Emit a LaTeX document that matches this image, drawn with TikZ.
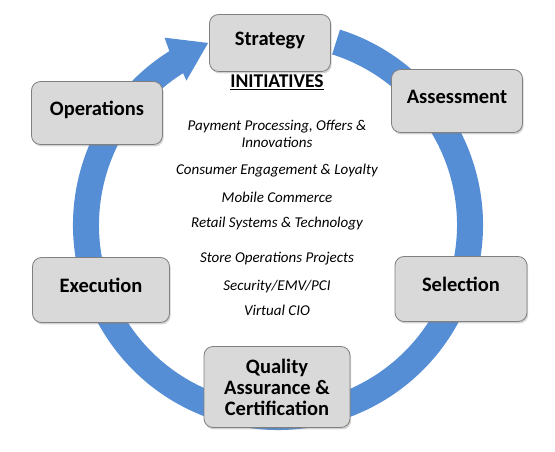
\documentclass[tikz,border=0pt]{standalone}
\usepackage{fontspec}
\setmainfont{Carlito}
\usetikzlibrary{shadows}
\definecolor{ringblue}{RGB}{85,142,213}
\definecolor{boxfill}{RGB}{217,217,217}
\definecolor{boxline}{RGB}{128,128,128}
\tikzset{
  stagebox/.style={draw=boxline, line width=0.8pt, fill=boxfill, rounded corners=9pt,
    drop shadow={shadow xshift=1.2pt, shadow yshift=-2pt, opacity=0.35},
    font=\fontsize{20.5}{21}\selectfont\bfseries, align=center, inner sep=0pt},
  onelabel/.style={text height=12pt, text depth=7pt},
  initem/.style={font=\fontsize{15}{17}\selectfont\itshape, align=center, inner sep=0pt}
}
\begin{document}
\begin{tikzpicture}[x=1pt,y=1pt]
\useasboundingbox (0,0) rectangle (555,452);
% ring arrow
\begin{scope}[shift={(278,227)}]
\fill[ringblue] (72.4:205) arc[start angle=72.4, end angle=-238, radius=205]
  -- (-238.8:219) -- (-249:195) -- (-237.6:171) -- (-238:179)
  arc[start angle=-238, end angle=72.4, radius=179] -- cycle;
\end{scope}
% stages
\node[stagebox, onelabel, minimum width=121pt, minimum height=57pt] (strategy) at (270,409) {Strategy};
\node[stagebox, onelabel, minimum width=131pt, minimum height=63pt] (assess) at (457,351) {Assessment};
\node[stagebox, onelabel, minimum width=132pt, minimum height=65pt] (select) at (461,163) {Selection};
\node[stagebox, minimum width=146pt, minimum height=81pt] (quality) at (277,65) {Quality\\Assurance \&\\Certification};
\node[stagebox, onelabel, minimum width=137pt, minimum height=65pt] (exec) at (101,162) {Execution};
\node[stagebox, onelabel, minimum width=131pt, minimum height=63pt] (ops) at (97,339) {Operations};
% initiatives
\node[font=\fontsize{19.5}{21}\selectfont\bfseries, inner sep=0pt] (init) at (277,370) {\underline{INITIATIVES}};
\node[initem] (i1) at (277,318) {Payment Processing, Offers \&\\Innovations};
\node[initem] (i2) at (277,281) {Consumer Engagement \& Loyalty};
\node[initem] (i3) at (277,255) {Mobile Commerce};
\node[initem] (i4) at (277,228) {Retail Systems \& Technology};
\node[initem] (i5) at (277,193) {Store Operations Projects};
\node[initem] (i6) at (277,165) {Security/EMV/PCI};
\node[initem] (i7) at (277,142) {Virtual CIO};
\end{tikzpicture}
\end{document}
